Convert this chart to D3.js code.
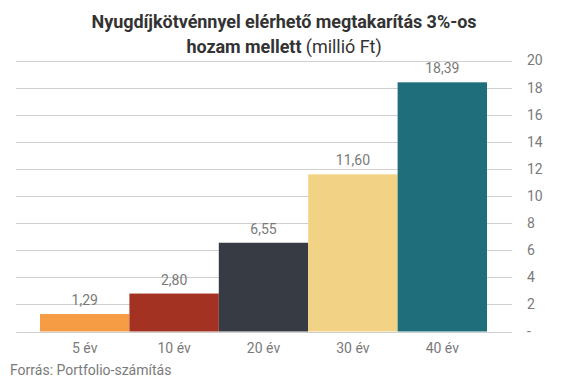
<!DOCTYPE html>
<html><head><meta charset="utf-8">
<script src="https://cdn.jsdelivr.net/npm/d3@7"></script>
<style>
body{margin:0;background:#fff;}
svg{display:block;font-family:Roboto,"Noto Sans",sans-serif;}
</style></head>
<body><svg id="c" width="573" height="380"></svg>
<script>
const categories = ["5 év","10 év","20 év","30 év","40 év"];
const values = [1.29, 2.80, 6.55, 11.60, 18.39];
const colors = ["#F59C45","#A33223","#363B44","#F2D386","#1F6E7C"];
const yTicks = [0,2,4,6,8,10,12,14,16,18,20];
const titleLine1 = "Nyugdíjkötvénnyel elérhető megtakarítás 3%-os";
const titleLine2Bold = "hozam mellett";
const titleLine2Normal = " (millió Ft)";
const source = "Forrás: Portfolio-számítás";

const svg = d3.select("#c");
const x = d3.scaleBand().domain(categories).range([40, 487]).padding(0);
const y = d3.scaleLinear().domain([0, 20]).range([331.5, 60.5]);
const fmt = v => v.toFixed(2).replace(".", ",");

// gridlines
svg.append("g").selectAll("line").data(yTicks).join("line")
  .attr("x1", 16).attr("x2", 512)
  .attr("y1", d => Math.round(y(d)) + 0.5).attr("y2", d => Math.round(y(d)) + 0.5)
  .attr("stroke", "#d0d0d0").attr("stroke-width", 1);

// right axis
const axis = d3.axisRight(y).tickValues(yTicks).tickSize(0).tickPadding(0)
  .tickFormat(d => d === 0 ? "-" : d);
const ag = svg.append("g").attr("transform", "translate(527,0)").call(axis);
ag.select(".domain").remove();
ag.selectAll("text").attr("font-size", 14).attr("fill", "#7a7a7a")
  .attr("font-family", "Roboto,sans-serif");

// bars
svg.append("g").selectAll("rect").data(values).join("rect")
  .attr("x", (d, i) => x(categories[i]))
  .attr("width", x.bandwidth())
  .attr("y", d => y(d))
  .attr("height", d => y(0) - y(d))
  .attr("fill", (d, i) => colors[i]);

// value labels
svg.append("g").selectAll("text").data(values).join("text")
  .attr("x", (d, i) => x(categories[i]) + x.bandwidth() / 2)
  .attr("y", d => y(d) - 9)
  .attr("text-anchor", "middle")
  .attr("font-size", 14).attr("fill", "#7a7a7a")
  .text(d => fmt(d));

// category labels
const xa = d3.axisBottom(x).tickSize(0).tickPadding(0);
const xg = svg.append("g").attr("transform", "translate(0,343)").call(xa);
xg.select(".domain").remove();
xg.selectAll("text").attr("font-size", 14).attr("fill", "#7a7a7a")
  .attr("font-family", "Roboto,sans-serif");

// title
svg.append("text").attr("x", 284).attr("y", 28).attr("text-anchor", "middle")
  .attr("font-size", 18).attr("font-weight", "bold").attr("fill", "#333")
  .attr("letter-spacing", -0.05).text(titleLine1);
const t2 = svg.append("text").attr("x", 284).attr("y", 53).attr("text-anchor", "middle")
  .attr("font-size", 18).attr("fill", "#333").attr("letter-spacing", -0.05);
t2.append("tspan").attr("font-weight", "bold").text(titleLine2Bold);
t2.append("tspan").text(titleLine2Normal);

// source
svg.append("text").attr("x", 10).attr("y", 375).attr("font-size", 14)
  .attr("fill", "#7a7a7a").text(source);
</script></body></html>
